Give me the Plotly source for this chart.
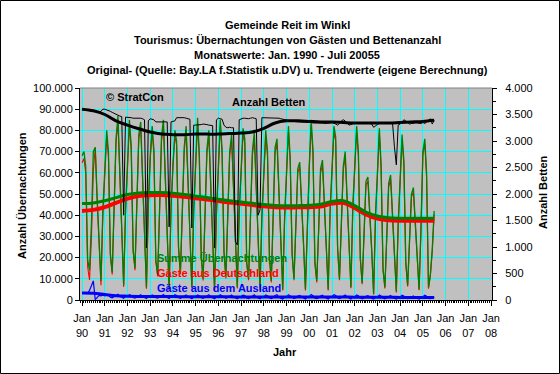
import pandas as pd
import plotly.graph_objects as go

# ---------------- DATA ----------------
# Monthly totals of overnight stays (Summe Übernachtungen), Jan 1990 - Jul 2005
s1990 = [68000, 70000, 63000, 19000, 14000, 36000, 70000, 72000, 48000, 28000, 9000, 42000]
s1991 = [61000, 80000, 70000, 22000, 13000, 44000, 76000, 87000, 58000, 30000, 7000, 43000]
s1992 = [66000, 85000, 73000, 24000, 15000, 46000, 78000, 84000, 60000, 32000, 6000, 45000]
s1993 = [68000, 82000, 71000, 19000, 12000, 44000, 77000, 85000, 57000, 30000, 5000, 44000]
s1994 = [66000, 80000, 75000, 25000, 13000, 42000, 72000, 82000, 56000, 31000, 6000, 43000]
s1995 = [64000, 86000, 69000, 21000, 10000, 40000, 71000, 80000, 55000, 28000, 5000, 41000]
s1996 = [66000, 85000, 71000, 23000, 11000, 38000, 70000, 78000, 53000, 29000, 6000, 42000]
s1997 = [62000, 81000, 76000, 18000, 10000, 37000, 70000, 79000, 52000, 28000, 5000, 40000]
s1998 = [61000, 80000, 70000, 21000, 9000, 36000, 72000, 76000, 50000, 26000, 5000, 39000]
s1999 = [62000, 82000, 67000, 22000, 10000, 35000, 62000, 65000, 48000, 27000, 5000, 40000]
s2000 = [63000, 85000, 71000, 18000, 9000, 34000, 62000, 66000, 47000, 26000, 5000, 42000]
s2001 = [66000, 82000, 77000, 25000, 10000, 38000, 63000, 70000, 50000, 28000, 6000, 44000]
s2002 = [64000, 82000, 70000, 20000, 8000, 30000, 56000, 58000, 42000, 24000, 3000, 40000]
s2003 = [60000, 81000, 64000, 15000, 6000, 28000, 55000, 59000, 38000, 20000, 4000, 36000]
s2004 = [58000, 78000, 66000, 18000, 7000, 26000, 50000, 53000, 36000, 20000, 5000, 34000]
s2005 = [70000, 76000, 60000, 6000, 12000, 24000, 42000]

# Monthly stays of foreign guests (Gäste aus dem Ausland)
a1990 = [3300, 3200, 3100, 3300, 4500, 6500, 9000, 200, 1500, 2200, 2000, 2300]
a1991 = [2000, 2600, 2300, 1300, 1000, 1500, 2200, 2700, 1800, 1200, 800, 1600]
a1992 = [1800, 2500, 2100, 1200, 900, 1400, 2100, 2500, 1700, 1100, 700, 1500]
a1993 = [1700, 2400, 2000, 1100, 900, 1400, 2200, 2600, 1600, 1100, 700, 1500]
a1994 = [1700, 2500, 2100, 1200, 800, 1300, 2000, 2400, 1600, 1000, 600, 1400]
a1995 = [1600, 2400, 2000, 1100, 800, 1300, 2100, 2500, 1500, 1000, 600, 1400]
a1996 = [1600, 2500, 2000, 1100, 800, 1200, 2000, 2400, 1500, 1000, 600, 1400]
a1997 = [1500, 2300, 2100, 1000, 700, 1200, 2000, 2400, 1400, 900, 600, 1300]
a1998 = [1500, 2400, 2000, 1000, 700, 1200, 2100, 2500, 1400, 900, 500, 1300]
a1999 = [1500, 2500, 1900, 1000, 700, 1100, 1900, 2200, 1400, 900, 500, 1300]
a2000 = [1500, 2600, 2000, 900, 700, 1100, 1900, 2300, 1300, 900, 500, 1400]
a2001 = [1600, 2500, 2100, 1100, 700, 1200, 1900, 2300, 1400, 900, 500, 1400]
a2002 = [1500, 2400, 2000, 1000, 600, 1000, 1800, 2000, 1200, 800, 400, 1300]
a2003 = [1400, 2400, 1900, 900, 600, 1000, 1700, 2100, 1200, 800, 400, 1200]
a2004 = [1400, 2300, 1900, 900, 600, 900, 1600, 1900, 1100, 700, 400, 1200]
a2005 = [1500, 2300, 1800, 700, 600, 900, 1500]

# Monthly number of beds (Anzahl Betten)
b1990 = [3600, 3600, 3600, 3600, 3590, 3580, 3570, 3560, 3550, 3540, 3560, 3600]
b1991 = [3600, 3590, 3580, 3560, 3540, 3520, 3500, 3490, 3470, 3460, 1600, 3450]
b1992 = [3450, 3440, 3440, 3430, 3430, 3430, 3440, 3430, 3420, 3400, 980, 3380]
b1993 = [3420, 3410, 3400, 3360, 3360, 3360, 3350, 3350, 3360, 3360, 1380, 3360]
b1994 = [3370, 3380, 3440, 3440, 3450, 3440, 3440, 3430, 3420, 3410, 1360, 3300]
b1995 = [3300, 3300, 3300, 3310, 3320, 3320, 3310, 3300, 3300, 3290, 980, 3400]
b1996 = [3430, 3420, 3410, 3300, 3260, 3250, 3260, 3250, 3250, 1100, 1040, 3400]
b1997 = [3420, 3430, 3430, 3420, 3420, 3430, 3440, 3430, 3420, 1600, 1700, 3440]
b1998 = [3440, 3440, 3430, 3430, 3430, 3440, 3440, 3440, 3430, 3420, 3410, 3400]
b1999 = [3400, 3390, 3380, 3370, 3370, 3360, 3360, 3360, 3360, 3350, 3350, 3350]
b2000 = [3350, 3350, 3340, 3340, 3340, 3350, 3340, 3340, 3330, 3330, 3340, 3340]
b2001 = [3350, 3340, 3320, 3300, 3330, 3380, 3400, 3380, 3340, 3300, 3310, 3330]
b2002 = [3340, 3340, 3340, 3340, 3330, 3330, 3340, 3340, 3330, 3320, 3260, 3280]
b2003 = [3320, 3330, 3330, 3330, 3330, 3330, 3330, 3330, 3340, 2900, 2550, 3300]
b2004 = [3320, 3360, 3400, 3380, 3340, 3320, 3330, 3340, 3340, 3340, 3340, 3330]
b2005 = [3350, 3330, 3360, 3400, 3420, 3320, 3390]

# Half-yearly trend values (eigene Berechnung), Jan 1990 - Jul 2005
trend_summe = [45500, 45800, 46800, 48300, 49800, 50500, 50700, 50700,
               50400, 49800, 49000, 48300, 47500, 46800, 46200, 45600,
               45000, 44600, 44400, 44500, 44700, 45200, 46500, 46800,
               44500, 41500, 39600, 38800, 38600, 38600, 38600, 38600]
trend_deutschland = [42000, 42500, 43800, 45800, 47800, 49000, 49400, 49500,
                     49200, 48700, 48000, 47400, 46700, 46000, 45400, 44800,
                     44200, 43800, 43600, 43700, 43800, 44100, 45500, 45800,
                     43400, 40400, 38400, 37600, 37400, 37400, 37400, 37400]
trend_ausland = [3300, 3200, 2600, 2000, 1800, 1700, 1650, 1600,
                 1600, 1550, 1550, 1500, 1500, 1480, 1450, 1450,
                 1450, 1430, 1400, 1400, 1400, 1400, 1400, 1380,
                 1350, 1300, 1280, 1250, 1230, 1200, 1200, 1200]
trend_betten = [3600, 3570, 3500, 3380, 3300, 3230, 3170, 3130,
                3120, 3120, 3130, 3130, 3130, 3140, 3150, 3170,
                3240, 3340, 3380, 3380, 3370, 3360, 3360, 3350,
                3340, 3340, 3340, 3340, 3350, 3360, 3370, 3390]

tick_labels = ["Jan<br>90", "Jan<br>91", "Jan<br>92", "Jan<br>93", "Jan<br>94",
               "Jan<br>95", "Jan<br>96", "Jan<br>97", "Jan<br>98", "Jan<br>99",
               "Jan<br>00", "Jan<br>01", "Jan<br>02", "Jan<br>03", "Jan<br>04",
               "Jan<br>05", "Jan<br>06", "Jan<br>07", "Jan<br>08"]

summe = (s1990 + s1991 + s1992 + s1993 + s1994 + s1995 + s1996 + s1997 + s1998
         + s1999 + s2000 + s2001 + s2002 + s2003 + s2004 + s2005)
ausland = (a1990 + a1991 + a1992 + a1993 + a1994 + a1995 + a1996 + a1997 + a1998
           + a1999 + a2000 + a2001 + a2002 + a2003 + a2004 + a2005)
betten = (b1990 + b1991 + b1992 + b1993 + b1994 + b1995 + b1996 + b1997 + b1998
          + b1999 + b2000 + b2001 + b2002 + b2003 + b2004 + b2005)
# Summe = Deutschland + Ausland
deutschland = [s - a for s, a in zip(summe, ausland)]

months = pd.date_range("1990-01-01", periods=len(summe), freq="MS")
trend_dates = pd.date_range("1990-01-01", periods=len(trend_summe), freq="6MS")
tick_dates = pd.date_range("1990-01-01", periods=len(tick_labels), freq="12MS")

GREEN = "#008000"
RED = "#FF0000"
BLUE = "#0000FF"
FONT = "Liberation Sans, Arial, sans-serif"

fig = go.Figure()
fig.add_trace(go.Scatter(x=months, y=deutschland, mode="lines",
                         line=dict(color=RED, width=1.1), yaxis="y"))
fig.add_trace(go.Scatter(x=months, y=summe, mode="lines",
                         line=dict(color=GREEN, width=1.3), yaxis="y"))
fig.add_trace(go.Scatter(x=trend_dates, y=trend_deutschland, mode="lines",
                         line=dict(color=RED, width=4, shape="spline"), yaxis="y"))
fig.add_trace(go.Scatter(x=trend_dates, y=trend_summe, mode="lines",
                         line=dict(color=GREEN, width=3, shape="spline"), yaxis="y"))
fig.add_trace(go.Scatter(x=months, y=ausland, mode="lines",
                         line=dict(color=BLUE, width=1.2), yaxis="y"))
fig.add_trace(go.Scatter(x=trend_dates, y=trend_ausland, mode="lines",
                         line=dict(color=BLUE, width=3, shape="spline"), yaxis="y"))
fig.add_trace(go.Scatter(x=months, y=betten, mode="lines",
                         line=dict(color="black", width=1), yaxis="y2"))
fig.add_trace(go.Scatter(x=trend_dates, y=trend_betten, mode="lines",
                         line=dict(color="black", width=3, shape="spline"), yaxis="y2"))

L, R, T, B = 80, 68, 88, 74
W, H = 560, 374
PW, PH = W - L - R, H - T - B


def px(xp):
    return (xp - L) / PW


def py(yp):
    return (T + PH - yp) / PH


annotations = []
title_lines = [
    ("Gemeinde Reit im Winkl", 25),
    ("Tourismus: Übernachtungen von Gästen und Bettenanzahl", 40),
    ("Monatswerte: Jan. 1990 - Juli 20055", 55),
    ("Original- (Quelle: Bay.LA f.Statistik u.DV) u. Trendwerte (eigene Berechnung)", 70),
]
for txt, yp in title_lines:
    annotations.append(dict(text="<b>%s</b>" % txt, x=px(287), y=py(yp), xref="paper", yref="paper",
                            showarrow=False, xanchor="center", yanchor="middle",
                            font=dict(family=FONT, size=11, color="black")))

labels = [
    ("Summe Übernachtungen", GREEN, 258),
    ("Gäste aus Deutschland", RED, 273),
    ("Gäste aus dem Ausland", BLUE, 288),
]
for txt, col, yp in labels:
    annotations.append(dict(text="<b>%s</b>" % txt, x=px(155), y=py(yp), xref="paper", yref="paper",
                            showarrow=False, xanchor="left", yanchor="middle",
                            font=dict(family=FONT, size=11, color=col)))

annotations.append(dict(text="<b>© StratCon</b>", x=px(104), y=py(97), xref="paper", yref="paper",
                        showarrow=False, xanchor="left", yanchor="middle",
                        font=dict(family=FONT, size=11, color="black")))
annotations.append(dict(text="<b>Anzahl Betten</b>", x=px(230), y=py(102), xref="paper", yref="paper",
                        showarrow=False, xanchor="left", yanchor="middle",
                        font=dict(family=FONT, size=11, color="black")))
annotations.append(dict(text="<b>Anzahl Übernachtungen</b>", x=px(22), y=py(196), xref="paper", yref="paper",
                        showarrow=False, xanchor="center", yanchor="middle", textangle=-90,
                        font=dict(family=FONT, size=11, color="black")))
annotations.append(dict(text="<b>Anzahl Betten</b>", x=px(543), y=py(192), xref="paper", yref="paper",
                        showarrow=False, xanchor="center", yanchor="middle", textangle=-90,
                        font=dict(family=FONT, size=11, color="black")))
annotations.append(dict(text="<b>Jahr</b>", x=px(285), y=py(352), xref="paper", yref="paper",
                        showarrow=False, xanchor="center", yanchor="middle",
                        font=dict(family=FONT, size=11, color="black")))

shapes = [
    # plot area top border
    dict(type="line", xref="paper", yref="paper", x0=0, x1=1, y0=1, y1=1,
         line=dict(color="#808080", width=1)),
    # outer chart frame
    dict(type="rect", xref="paper", yref="paper",
         x0=px(0.5), x1=px(W - 0.5), y0=py(H - 0.5), y1=py(0.5),
         line=dict(color="black", width=1), layer="above"),
]

fig.update_layout(
    width=W, height=H,
    margin=dict(l=L, r=R, t=T, b=B, pad=0, autoexpand=False),
    paper_bgcolor="white", plot_bgcolor="#C0C0C0",
    separators=",.", showlegend=False,
    font=dict(family=FONT, size=11, color="black"),
    annotations=annotations, shapes=shapes,
    xaxis=dict(type="date", range=["1989-11-29", "2008-01-17"], automargin=False,
               tickmode="array", tickvals=tick_dates, ticktext=tick_labels,
               ticks="outside", ticklen=5, tickcolor="black", ticklabelstandoff=3,
               showline=True, linecolor="black", linewidth=1,
               showgrid=True, gridcolor="#00FFFF", gridwidth=1, zeroline=False,
               tickfont=dict(family=FONT, size=11, color="black"),
               minor=dict(dtick="M1", tick0="1990-01-01", ticks="outside", ticklen=2,
                          tickcolor="black", showgrid=False)),
    yaxis=dict(range=[0, 100000], dtick=10000, tickformat=",d", automargin=False,
               ticks="outside", ticklen=4, tickcolor="black",
               showline=True, linecolor="black", linewidth=1,
               showgrid=True, gridcolor="#00FFFF", gridwidth=1, zeroline=False,
               tickfont=dict(family=FONT, size=11, color="black")),
    yaxis2=dict(overlaying="y", side="right", range=[0, 4000], dtick=500, tickformat=",d",
                automargin=False,
                ticks="outside", ticklen=4, tickcolor="black", ticklabelstandoff=6,
                showline=True, linecolor="black", linewidth=1,
                showgrid=False, zeroline=False,
                tickfont=dict(family=FONT, size=11, color="black"),
                minor=dict(dtick=250, ticks="outside", ticklen=3, tickcolor="black")),
)

fig.write_html("out.html", config={"displayModeBar": False},
               post_script="document.body.style.margin='0';document.body.style.overflow='hidden';")
